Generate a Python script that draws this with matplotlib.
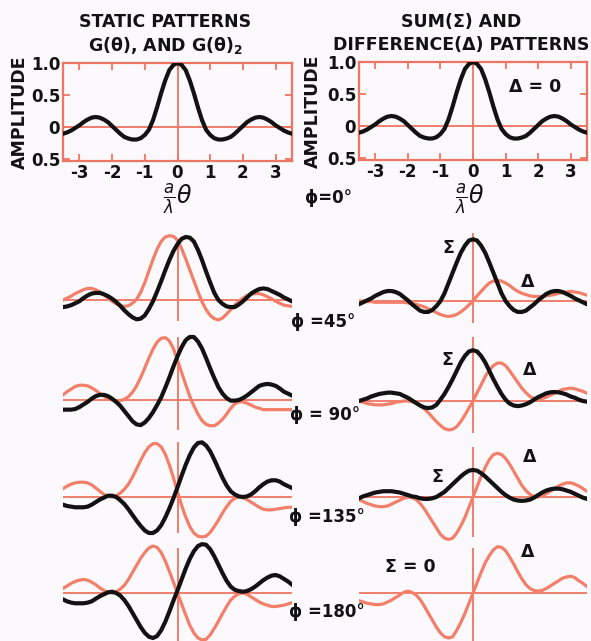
import matplotlib.pyplot as plt

W, H = 591, 641
SALMON = '#ef7563'
RED = '#f37f6a'
BLACK = '#121212'
BG = '#fbf9fc'
FONT = 'DejaVu Sans'
plt.rcParams['mathtext.fontset'] = 'dejavusans'

# x positions (a/lambda * theta), shared by every curve
theta = [-3.5, -3.375, -3.25, -3.125, -3.0, -2.875, -2.75, -2.625, -2.5, -2.375, -2.25, -2.125,
         -2.0, -1.875, -1.75, -1.625, -1.5, -1.375, -1.25, -1.125, -1.0, -0.875, -0.75, -0.625,
         -0.5, -0.375, -0.25, -0.125, 0.0, 0.125, 0.25, 0.375, 0.5, 0.625, 0.75, 0.875,
         1.0, 1.125, 1.25, 1.375, 1.5, 1.625, 1.75, 1.875, 2.0, 2.125, 2.25, 2.375,
         2.5, 2.625, 2.75, 2.875, 3.0, 3.125, 3.25, 3.375, 3.5]

# phi = 0 : static pattern G(theta), same curve in both framed plots
g_static = [-0.10, -0.08, -0.05, -0.01, 0.03, 0.08, 0.12, 0.15, 0.16, 0.15, 0.12, 0.08,
            0.02, -0.04, -0.10, -0.15, -0.175, -0.19, -0.19, -0.17, -0.12, -0.04, 0.11, 0.31,
            0.53, 0.73, 0.89, 0.97, 1.00, 0.97, 0.89, 0.73, 0.53, 0.31, 0.11, -0.04,
            -0.12, -0.17, -0.19, -0.19, -0.175, -0.15, -0.10, -0.04, 0.02, 0.08, 0.12, 0.15,
            0.16, 0.15, 0.12, 0.08, 0.03, -0.01, -0.05, -0.08, -0.10]

# left column: static patterns, black and red
left_black_45 = [-0.11, -0.10, -0.08, -0.05, -0.02, 0.03, 0.07, 0.10, 0.11, 0.11, 0.09, 0.06,
                 0.02, -0.03, -0.09, -0.16, -0.22, -0.27, -0.30, -0.29, -0.24, -0.14, -0.02, 0.13,
                 0.29, 0.46, 0.62, 0.76, 0.87, 0.95, 0.98, 0.97, 0.91, 0.78, 0.62, 0.44,
                 0.27, 0.11, 0.00, -0.06, -0.10, -0.11, -0.11, -0.07, -0.02, 0.04, 0.10, 0.14,
                 0.17, 0.18, 0.17, 0.14, 0.11, 0.08, 0.04, 0.01, -0.02]
left_red_45 = [0.00, 0.03, 0.06, 0.10, 0.13, 0.16, 0.18, 0.18, 0.16, 0.13, 0.08, 0.03,
               -0.02, -0.06, -0.09, -0.10, -0.09, -0.05, 0.01, 0.12, 0.27, 0.45, 0.63, 0.79,
               0.91, 0.98, 1.00, 0.99, 0.93, 0.80, 0.64, 0.47, 0.30, 0.13, -0.03, -0.15,
               -0.24, -0.29, -0.31, -0.28, -0.22, -0.15, -0.08, -0.02, 0.03, 0.07, 0.09, 0.10,
               0.10, 0.08, 0.05, 0.02, -0.02, -0.05, -0.08, -0.09, -0.10]
left_black_90 = [-0.15, -0.15, -0.15, -0.14, -0.11, -0.07, -0.03, 0.02, 0.06, 0.08, 0.08, 0.06,
                 0.02, -0.03, -0.09, -0.17, -0.25, -0.33, -0.38, -0.39, -0.35, -0.28, -0.19, -0.08,
                 0.04, 0.19, 0.35, 0.52, 0.68, 0.82, 0.93, 0.98, 0.98, 0.91, 0.80, 0.65,
                 0.49, 0.34, 0.20, 0.10, 0.03, -0.01, -0.01, 0.00, 0.03, 0.07, 0.12, 0.17,
                 0.22, 0.24, 0.25, 0.24, 0.22, 0.18, 0.13, 0.10, 0.07]
left_red_90 = [0.08, 0.13, 0.17, 0.21, 0.23, 0.23, 0.22, 0.19, 0.15, 0.10, 0.06, 0.02,
               0.00, -0.01, -0.01, 0.01, 0.05, 0.12, 0.22, 0.35, 0.50, 0.65, 0.79, 0.90,
               0.96, 0.97, 0.92, 0.80, 0.62, 0.43, 0.24, 0.06, -0.09, -0.22, -0.32, -0.38,
               -0.40, -0.40, -0.36, -0.30, -0.22, -0.13, -0.06, -0.03, -0.03, -0.05, -0.08, -0.11,
               -0.13, -0.15, -0.15, -0.15, -0.15, -0.15, -0.15, -0.15, -0.15]
left_black_135 = [-0.12, -0.14, -0.15, -0.16, -0.16, -0.16, -0.15, -0.12, -0.08, -0.04, -0.01, 0.02,
                  0.02, 0.00, -0.05, -0.11, -0.19, -0.28, -0.37, -0.45, -0.52, -0.56, -0.56, -0.52,
                  -0.44, -0.32, -0.18, -0.02, 0.15, 0.33, 0.50, 0.65, 0.77, 0.84, 0.85, 0.80,
                  0.71, 0.58, 0.44, 0.30, 0.18, 0.09, 0.04, 0.01, 0.00, 0.01, 0.04, 0.09,
                  0.15, 0.20, 0.24, 0.26, 0.26, 0.24, 0.20, 0.17, 0.14]
left_red_135 = [0.13, 0.17, 0.20, 0.22, 0.23, 0.23, 0.22, 0.19, 0.14, 0.09, 0.04, 0.01,
                0.00, 0.02, 0.06, 0.12, 0.20, 0.31, 0.44, 0.57, 0.69, 0.78, 0.83, 0.83,
                0.78, 0.67, 0.50, 0.30, 0.08, -0.13, -0.31, -0.46, -0.56, -0.61, -0.62, -0.61,
                -0.55, -0.46, -0.36, -0.25, -0.15, -0.07, -0.02, 0.00, -0.01, -0.04, -0.08, -0.12,
                -0.16, -0.19, -0.20, -0.20, -0.19, -0.18, -0.17, -0.16, -0.16]
left_black_180 = [-0.10, -0.13, -0.15, -0.16, -0.16, -0.16, -0.15, -0.13, -0.09, -0.05, -0.02, 0.01,
                  0.02, 0.00, -0.04, -0.11, -0.20, -0.31, -0.42, -0.53, -0.62, -0.68, -0.70, -0.67,
                  -0.58, -0.45, -0.29, -0.12, 0.04, 0.21, 0.38, 0.53, 0.65, 0.73, 0.76, 0.75,
                  0.68, 0.57, 0.44, 0.31, 0.19, 0.10, 0.05, 0.03, 0.02, 0.03, 0.06, 0.10,
                  0.15, 0.20, 0.24, 0.27, 0.28, 0.26, 0.22, 0.18, 0.13]
left_red_180 = [0.07, 0.11, 0.15, 0.18, 0.20, 0.21, 0.20, 0.17, 0.13, 0.08, 0.04, 0.01,
                0.00, 0.02, 0.06, 0.12, 0.21, 0.32, 0.43, 0.54, 0.63, 0.70, 0.73, 0.71,
                0.63, 0.50, 0.34, 0.17, 0.00, -0.17, -0.34, -0.50, -0.62, -0.70, -0.73, -0.72,
                -0.65, -0.55, -0.44, -0.32, -0.21, -0.11, -0.05, -0.01, 0.00, -0.02, -0.06, -0.10,
                -0.14, -0.17, -0.19, -0.21, -0.21, -0.20, -0.19, -0.17, -0.15]

# right column: sum (black) and difference (red)
sum_45 = [-0.05, -0.02, 0.01, 0.04, 0.08, 0.11, 0.14, 0.155, 0.155, 0.14, 0.11, 0.06,
          0.01, -0.05, -0.10, -0.15, -0.17, -0.17, -0.14, -0.08, 0.00, 0.12, 0.28, 0.44,
          0.60, 0.75, 0.86, 0.94, 0.96, 0.94, 0.86, 0.75, 0.60, 0.44, 0.28, 0.12,
          0.00, -0.08, -0.14, -0.17, -0.17, -0.15, -0.10, -0.05, 0.01, 0.06, 0.11, 0.14,
          0.155, 0.155, 0.14, 0.11, 0.08, 0.04, 0.01, -0.02, -0.05]
diff_45 = [0.00, 0.00, -0.01, -0.01, -0.02, -0.02, -0.02, -0.02, -0.02, -0.02, -0.02, -0.02,
           -0.03, -0.04, -0.05, -0.07, -0.09, -0.12, -0.15, -0.18, -0.21, -0.23, -0.24, -0.23,
           -0.21, -0.17, -0.12, -0.06, 0.00, 0.08, 0.15, 0.22, 0.28, 0.31, 0.32, 0.31,
           0.28, 0.24, 0.19, 0.15, 0.12, 0.10, 0.08, 0.07, 0.07, 0.07, 0.08, 0.09,
           0.10, 0.12, 0.13, 0.14, 0.15, 0.14, 0.13, 0.11, 0.09]
sum_90 = [0.00, 0.02, 0.04, 0.07, 0.09, 0.11, 0.12, 0.13, 0.13, 0.12, 0.11, 0.08,
          0.05, 0.01, -0.03, -0.07, -0.10, -0.11, -0.10, -0.06, 0.02, 0.11, 0.22, 0.34,
          0.47, 0.60, 0.70, 0.77, 0.79, 0.77, 0.70, 0.60, 0.47, 0.34, 0.22, 0.11,
          0.02, -0.04, -0.07, -0.08, -0.07, -0.05, -0.02, 0.02, 0.06, 0.09, 0.12, 0.135,
          0.14, 0.135, 0.12, 0.10, 0.07, 0.05, 0.02, 0.00, -0.01]
diff_90 = [0.00, -0.02, -0.04, -0.05, -0.06, -0.06, -0.06, -0.05, -0.04, -0.02, -0.01, 0.00,
           0.00, -0.01, -0.03, -0.07, -0.12, -0.18, -0.25, -0.32, -0.38, -0.43, -0.45, -0.44,
           -0.40, -0.32, -0.22, -0.11, 0.00, 0.13, 0.25, 0.38, 0.48, 0.55, 0.59, 0.59,
           0.55, 0.47, 0.38, 0.29, 0.20, 0.13, 0.07, 0.04, 0.03, 0.04, 0.06, 0.09,
           0.12, 0.15, 0.18, 0.19, 0.20, 0.19, 0.17, 0.15, 0.12]
sum_135 = [-0.02, 0.01, 0.03, 0.05, 0.07, 0.08, 0.09, 0.09, 0.09, 0.08, 0.07, 0.05,
           0.03, 0.01, 0.00, -0.02, -0.03, -0.03, -0.02, 0.00, 0.04, 0.08, 0.14, 0.20,
           0.26, 0.32, 0.37, 0.41, 0.42, 0.41, 0.37, 0.32, 0.26, 0.20, 0.14, 0.08,
           0.03, -0.01, -0.04, -0.055, -0.06, -0.055, -0.04, -0.01, 0.03, 0.07, 0.10, 0.12,
           0.13, 0.13, 0.12, 0.10, 0.08, 0.05, 0.02, -0.01, -0.03]
diff_135 = [-0.04, -0.07, -0.10, -0.12, -0.14, -0.15, -0.15, -0.14, -0.11, -0.08, -0.05, -0.02,
            0.00, -0.01, -0.04, -0.10, -0.18, -0.28, -0.38, -0.48, -0.58, -0.64, -0.66, -0.64,
            -0.56, -0.45, -0.32, -0.16, 0.00, 0.16, 0.32, 0.46, 0.58, 0.66, 0.68, 0.66,
            0.60, 0.51, 0.40, 0.29, 0.18, 0.10, 0.04, 0.01, 0.00, 0.02, 0.05, 0.09,
            0.13, 0.17, 0.20, 0.22, 0.22, 0.20, 0.17, 0.13, 0.09]
diff_180 = [-0.12, -0.14, -0.16, -0.17, -0.18, -0.18, -0.17, -0.14, -0.11, -0.07, -0.03, 0.01,
            0.03, 0.01, -0.03, -0.10, -0.20, -0.31, -0.42, -0.53, -0.62, -0.68, -0.70, -0.68,
            -0.58, -0.46, -0.32, -0.16, 0.00, 0.16, 0.32, 0.47, 0.58, 0.67, 0.72, 0.71,
            0.66, 0.56, 0.45, 0.33, 0.22, 0.13, 0.07, 0.04, 0.03, 0.04, 0.07, 0.11,
            0.15, 0.19, 0.23, 0.25, 0.26, 0.24, 0.19, 0.15, 0.10]

x_ticks = [-3, -2, -1, 0, 1, 2, 3]
x_tick_labels = ['-3', '-2', '-1', '0', '1', '2', '3']
y_ticks = [-0.5, 0, 0.5, 1.0]
y_tick_labels = ['0.5', '0', '0.5', '1.0']

# rows below the framed plots: (left red, left black, right red, right black or None)
rows = [
    (left_red_45, left_black_45, diff_45, sum_45),
    (left_red_90, left_black_90, diff_90, sum_90),
    (left_red_135, left_black_135, diff_135, sum_135),
    (left_red_180, left_black_180, diff_180, None),
]

PX_PER_UNIT = 64.3
fig = plt.figure(figsize=(W / 100, H / 100), dpi=100)
fig.patch.set_facecolor(BG)


def px_axes(left, top, width, height):
    return fig.add_axes([left / W, 1 - (top + height) / H, width / W, height / H])


def put(x, y, s, size=12, **kw):
    fig.text(x / W, 1 - y / H, s, ha='center', va='center', fontsize=size, family=FONT,
             color=BLACK, fontweight='bold', **kw)


def framed(left, top, width):
    ax = px_axes(left, top, width, 1.53 * PX_PER_UNIT)
    ax.set_facecolor('none')
    ax.set_xlim(-3.5, 3.5)
    ax.set_ylim(-0.53, 1.0)
    for sp in ax.spines.values():
        sp.set_color(SALMON)
        sp.set_linewidth(1.6)
    ax.axhline(0, color=SALMON, lw=1.3, zorder=1)
    ax.axvline(0, color=SALMON, lw=1.3, zorder=1)
    ax.set_xticks(x_ticks, x_tick_labels)
    ax.set_yticks(y_ticks, y_tick_labels)
    ax.tick_params(direction='in', length=5, width=1.3, color=SALMON, top=True, right=True,
                   labelsize=12, pad=2, labelcolor=BLACK)
    for lab in ax.get_xticklabels() + ax.get_yticklabels():
        lab.set_fontweight('bold')
    ax.plot(theta, g_static, color=BLACK, lw=3.0, solid_joinstyle='round', zorder=3)
    return ax


def bare(left, baseline, width, v_lo, v_hi):
    ylo, yhi = -0.9, 1.15
    ax = px_axes(left, baseline - yhi * PX_PER_UNIT, width, (yhi - ylo) * PX_PER_UNIT)
    ax.set_facecolor('none')
    ax.set_xlim(-3.5, 3.5)
    ax.set_ylim(ylo, yhi)
    ax.axis('off')
    ax.axhline(0, color=SALMON, lw=1.3, zorder=1)
    ax.vlines(0, v_lo, v_hi, color=SALMON, lw=1.3, zorder=1)
    return ax


framed(63, 63, 229)
framed(359, 62, 228)

left_base = [300, 400, 497, 593]
right_base = [301, 401, 497, 593]
left_vspan = [(-0.32, 0.95), (-0.47, 0.98), (-0.56, 0.85), (-0.8, 0.7)]
right_vspan = [(-0.34, 1.05), (-0.5, 1.0), (-0.62, 0.78), (-0.8, 0.7)]

for i, (lred, lblack, rred, rblack) in enumerate(rows):
    ax = bare(63, left_base[i], 229, *left_vspan[i])
    ax.plot(theta, lred, color=RED, lw=2.3, solid_joinstyle='round', zorder=2)
    ax.plot(theta, lblack, color=BLACK, lw=3.0, solid_joinstyle='round', zorder=3)
    ax = bare(359, right_base[i], 228, *right_vspan[i])
    ax.plot(theta, rred, color=RED, lw=2.3, solid_joinstyle='round', zorder=2)
    if rblack is not None:
        ax.plot(theta, rblack, color=BLACK, lw=3.0, solid_joinstyle='round', zorder=3)

# titles and labels
put(165, 22, 'STATIC PATTERNS', size=12.5)
put(165, 45, 'G(θ), AND G(θ)$_\\mathbf{2}$', size=12.5)
put(461, 22, 'SUM(Σ) AND', size=12.5)
put(461, 45, 'DIFFERENCE(Δ) PATTERNS', size=12.5)
put(20, 112, 'AMPLITUDE', size=12.5, rotation=90)
put(313, 111, 'AMPLITUDE', size=12.5, rotation=90)
put(178, 199, r'$\frac{a}{\lambda}\theta$', size=17)
put(470, 199, r'$\frac{a}{\lambda}\theta$', size=17)
put(535, 87, 'Δ = 0', size=12.5)

put(328, 198, 'ϕ=0°', size=12)
put(323, 322, 'ϕ =45°', size=12)
put(325, 415, 'ϕ = 90°', size=12)
put(327, 517, 'ϕ =135°', size=12)
put(327, 612, 'ϕ =180°', size=12)

put(448, 248, 'Σ', size=12.5)
put(528, 282, 'Δ', size=12.5)
put(447, 360, 'Σ', size=12.5)
put(530, 370, 'Δ', size=12.5)
put(437, 477, 'Σ', size=12.5)
put(530, 457, 'Δ', size=12.5)
put(410, 567, 'Σ = 0', size=12.5)
put(528, 552, 'Δ', size=12.5)

fig.savefig('out.png', dpi=100, facecolor=BG)
